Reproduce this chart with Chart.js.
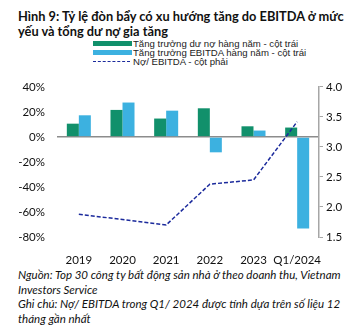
<!DOCTYPE html>
<html>
<head>
<meta charset="utf-8">
<script src="https://cdn.jsdelivr.net/npm/chart.js@4/dist/chart.umd.min.js"></script>
<style>
  body { margin: 0; width: 359px; height: 334px; background: #fff; position: relative; overflow: hidden; }
  .title { position: absolute; left: 18px; top: 9px; font: bold 12.8px Lato, sans-serif; line-height: 15px; color: #111; white-space: nowrap; }
  .legend { position: absolute; left: 93px; top: 38.5px; font: 9.6px "Liberation Sans", Arial, sans-serif; color: #222; }
  .legend div { height: 9px; line-height: 9px; position: relative; padding-left: 40px; white-space: nowrap; }
  .legend .sw { position: absolute; left: 0; top: 2px; width: 39px; height: 5px; }
  .legend .dash { position: absolute; left: 0; top: 4px; width: 37px; border-top: 1.5px dashed #1b2a9c; }
  .chart { position: absolute; left: 0; top: 68px; width: 359px; height: 199px; }
  .note { position: absolute; left: 18px; top: 268px; font: italic 11.5px Lato, sans-serif; line-height: 14.5px; color: #111; white-space: nowrap; }
</style>
</head>
<body>
<div class="title">Hình 9: Tỷ lệ đòn bẩy có xu hướng tăng do EBITDA ở mức<br>yếu và tổng dư nợ gia tăng</div>
<div class="legend">
  <div><span class="sw" style="background:#11906b"></span>Tăng trưởng dư nợ hàng năm - cột trái</div>
  <div><span class="sw" style="background:#3cb1e0"></span>Tăng trưởng EBITDA hàng năm - cột trái</div>
  <div><span class="dash"></span>Nợ/ EBITDA - cột phải</div>
</div>
<div class="chart"><canvas id="c"></canvas></div>
<div class="note">Nguồn: Top 30 công ty bất động sản nhà ở theo doanh thu, Vietnam<br>Investors Service<br>Ghi chú: Nợ/ EBITDA trong Q1/ 2024 được tính dựa trên số liệu 12<br>tháng gần nhất</div>

<script>
const years = ['2019', '2020', '2021', '2022', '2023', 'Q1/2024'];
const debtGrowth = [10.6, 21.6, 14.7, 22.9, 8.5, 7.5];
const ebitdaGrowth = [17.3, 27.5, 21.0, -12.3, 5.1, -73.3];
const debtToEbitda = [1.88, 1.79, 1.70, 2.38, 2.45, 3.42];
const leftTicks = [40, 20, 0, -20, -40, -60, -80];
const rightTicks = [4.0, 3.5, 3.0, 2.5, 2.0, 1.5];

const tickFont = { family: 'Lato, sans-serif', size: 11.5 };

new Chart(document.getElementById('c'), {
  type: 'bar',
  data: {
    labels: years,
    datasets: [
      {
        type: 'line',
        label: 'Nợ/ EBITDA - cột phải',
        data: debtToEbitda,
        yAxisID: 'y1',
        borderColor: '#1b2a9c',
        borderWidth: 1.5,
        borderDash: [4, 2],
        pointRadius: 0,
        tension: 0,
        order: 0
      },
      {
        label: 'Tăng trưởng dư nợ hàng năm - cột trái',
        data: debtGrowth,
        backgroundColor: '#11906b',
        yAxisID: 'y',
        categoryPercentage: 0.55,
        barPercentage: 1,
        order: 1
      },
      {
        label: 'Tăng trưởng EBITDA hàng năm - cột trái',
        data: ebitdaGrowth,
        backgroundColor: '#3cb1e0',
        yAxisID: 'y',
        categoryPercentage: 0.55,
        barPercentage: 1,
        order: 1
      }
    ]
  },
  options: {
    responsive: true,
    maintainAspectRatio: false,
    animation: false,
    layout: { padding: { top: 7, left: 0, right: 0, bottom: 0 } },
    plugins: { legend: { display: false }, tooltip: { enabled: false } },
    scales: {
      x: {
        grid: { display: false },
        border: { display: false },
        ticks: { color: '#111', font: tickFont, padding: 8, maxRotation: 0, autoSkip: false },
        afterFit: s => { s.height = 30; }
      },
      y: {
        position: 'left',
        min: -80, max: 40,
        afterBuildTicks: s => { s.ticks = leftTicks.map(v => ({ value: v })); },
        grid: {
          drawTicks: false,
          color: ctx => ctx.tick && ctx.tick.value === 0 ? '#8c8c8c' : 'transparent',
          lineWidth: 1.5
        },
        border: { display: false },
        ticks: { color: '#111', font: tickFont, padding: 12, callback: v => v + '%' },
        afterFit: s => { s.width = 57; }
      },
      y1: {
        position: 'right',
        min: 1.5, max: 4.0,
        afterBuildTicks: s => { s.ticks = rightTicks.map(v => ({ value: v })); },
        grid: { drawOnChartArea: false, color: '#a6a6a6', tickLength: 4 },
        border: { display: true, color: '#a6a6a6', width: 1.5 },
        ticks: { color: '#111', font: tickFont, padding: 3, callback: v => v.toFixed(1) },
        afterFit: s => { s.width = 40; }
      }
    }
  }
});
</script>
</body>
</html>
